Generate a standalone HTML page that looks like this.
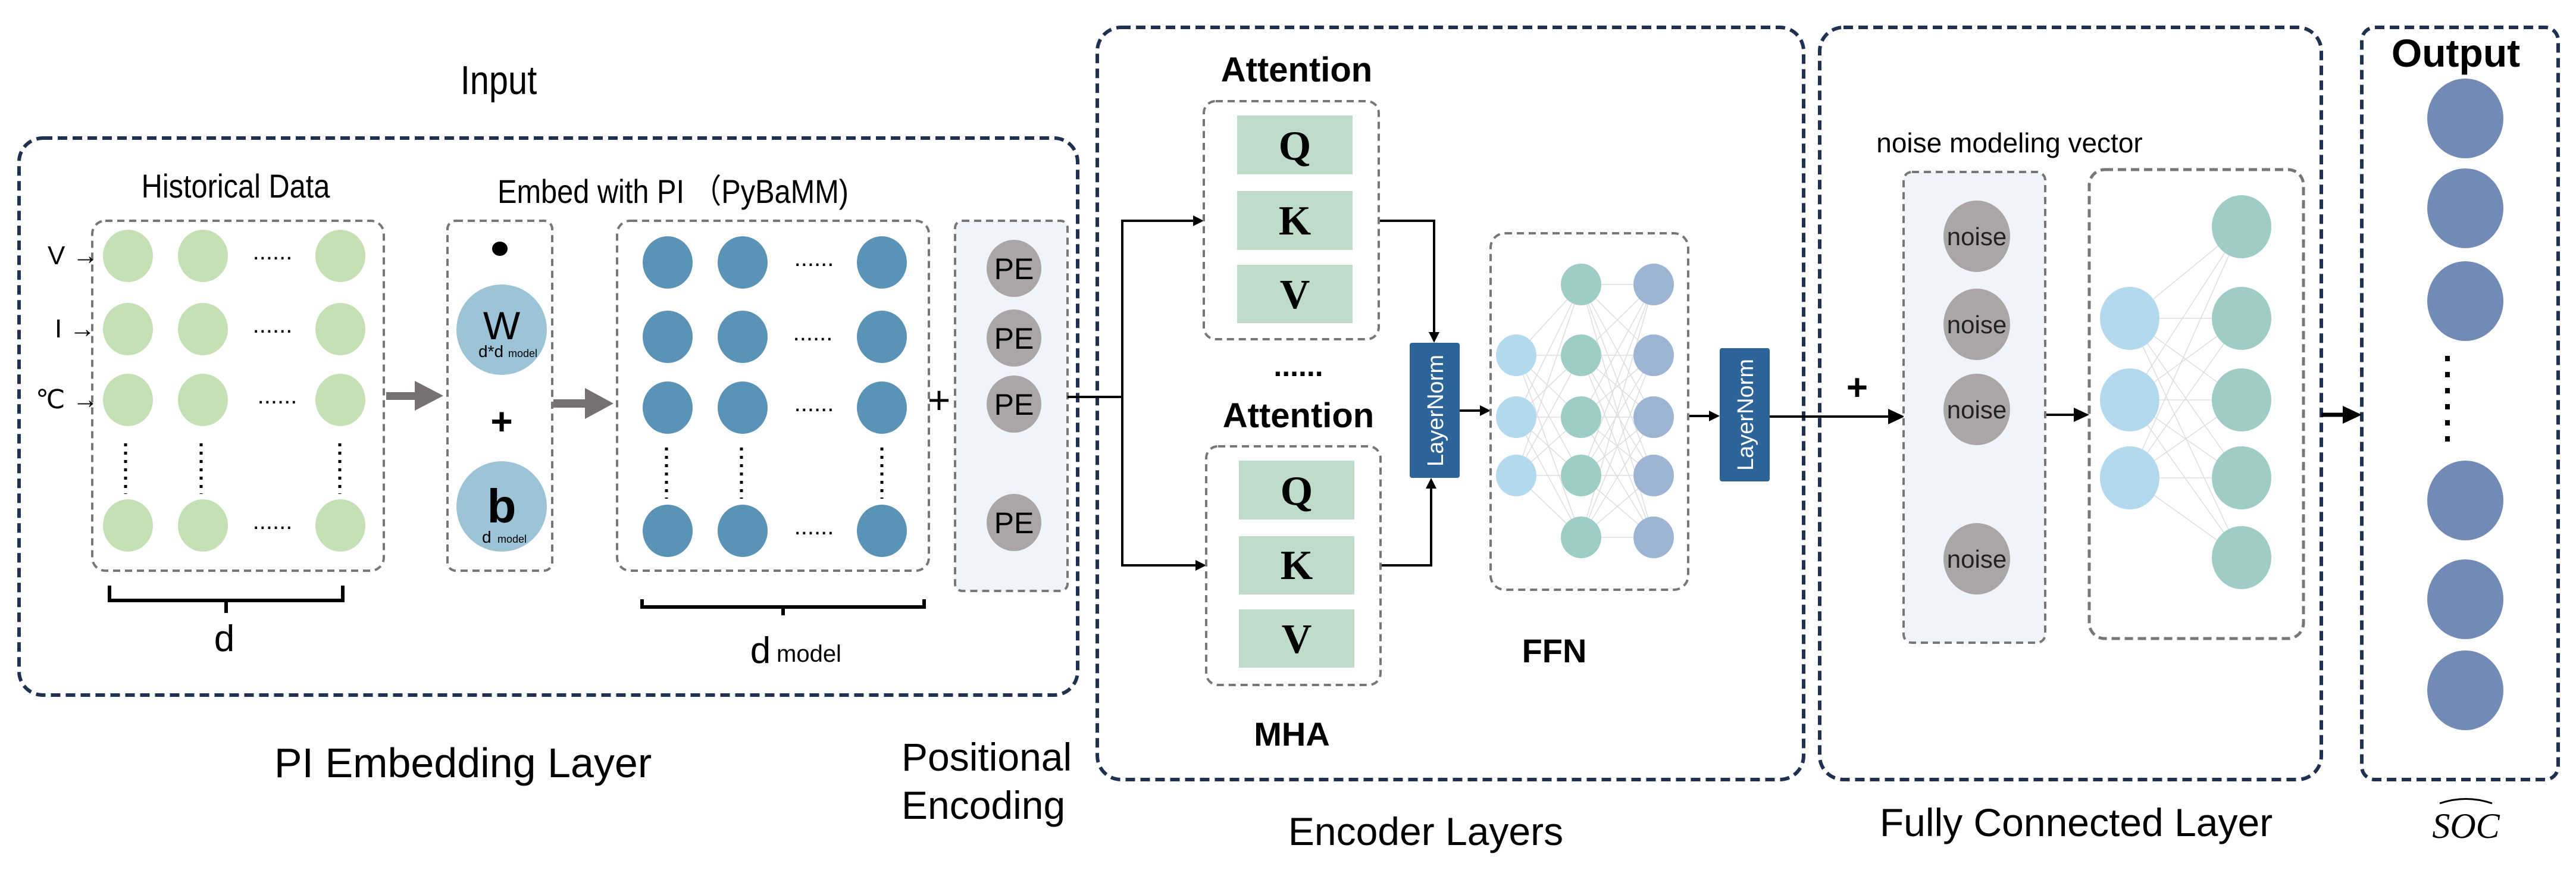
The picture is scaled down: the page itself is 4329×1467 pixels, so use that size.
<!DOCTYPE html>
<html><head><meta charset="utf-8"><style>
html,body{margin:0;padding:0;background:#fff}
svg{display:block}
text{font-family:"Liberation Sans","DejaVu Sans",sans-serif}
text.serif{font-family:"Liberation Serif","DejaVu Serif",serif}
</style></head><body>
<svg width="4329" height="1467" viewBox="0 0 4329 1467" xmlns="http://www.w3.org/2000/svg">
<g fill="none" stroke="#1f3050" stroke-width="6" stroke-dasharray="16 9">
<rect x="32" y="232" width="1779" height="936" rx="40"/>
<rect x="1844" y="46" width="1187" height="1264" rx="40"/>
<rect x="3058" y="46" width="843" height="1264" rx="40"/>
<rect x="3969" y="46" width="330" height="1264" rx="22"/>
</g>
<g fill="#000">
<text x="838" y="158" font-size="68" text-anchor="middle" transform="translate(838 0) scale(0.85 1) translate(-838 0)">Input</text>
<text x="396" y="332" font-size="56" text-anchor="middle" transform="translate(396 0) scale(0.87 1) translate(-396 0)">Historical Data</text>
<text x="1131" y="341" font-size="56" text-anchor="middle" transform="translate(1131 0) scale(0.87 1) translate(-1131 0)">Embed with PI （PyBaMM)</text>
<text x="778" y="1306" font-size="70" text-anchor="middle">PI Embedding Layer</text>
<text x="1515" y="1295" font-size="66">Positional</text>
<text x="1515" y="1376" font-size="66">Encoding</text>
<text x="2396" y="1420" font-size="66" text-anchor="middle">Encoder Layers</text>
<text x="3489" y="1405" font-size="66" text-anchor="middle">Fully Connected Layer</text>
<text x="3377" y="256" font-size="46" text-anchor="middle">noise modeling vector</text>
<text x="4127" y="112" font-size="66" font-weight="bold" text-anchor="middle">Output</text>
<text x="2179" y="137" font-size="58" font-weight="bold" text-anchor="middle">Attention</text>
<text x="2182" y="718" font-size="58" font-weight="bold" text-anchor="middle">Attention</text>
<text x="2171" y="1253" font-size="56" font-weight="bold" text-anchor="middle">MHA</text>
<text x="2612" y="1113" font-size="56" font-weight="bold" text-anchor="middle">FFN</text>
<text x="2182" y="632" font-size="50" font-weight="bold" text-anchor="middle">......</text>
<text class="serif" x="4144" y="1408" font-size="60" font-style="italic" text-anchor="middle">SOC</text>
<path d="M4100 1350 Q4144 1335 4188 1350" stroke="#000" stroke-width="3" fill="none"/>
<text x="377" y="1094" font-size="62" text-anchor="middle">d</text>
<text x="1278" y="1114" font-size="62" text-anchor="middle">d</text>
<text x="1305" y="1112" font-size="40">model</text>
</g>
<rect x="155" y="371" width="490" height="588" rx="22" fill="none" stroke="#777" stroke-width="4" stroke-dasharray="12 8"/>
<g fill="#c5e0b4">
<ellipse cx="215" cy="430" rx="42" ry="44"/><ellipse cx="341" cy="430" rx="42" ry="44"/><ellipse cx="572" cy="430" rx="42" ry="44"/>
<ellipse cx="215" cy="553" rx="42" ry="44"/><ellipse cx="341" cy="553" rx="42" ry="44"/><ellipse cx="572" cy="553" rx="42" ry="44"/>
<ellipse cx="215" cy="672" rx="42" ry="44"/><ellipse cx="341" cy="672" rx="42" ry="44"/><ellipse cx="572" cy="672" rx="42" ry="44"/>
<ellipse cx="215" cy="883" rx="42" ry="44"/><ellipse cx="341" cy="883" rx="42" ry="44"/><ellipse cx="572" cy="883" rx="42" ry="44"/>
</g>
<g font-size="40" fill="#000">
<text x="80" y="444" font-size="44">V →</text>
<text x="92" y="567" font-size="44">I →</text>
<text x="60" y="686" font-size="44">℃ →</text>
<text x="458" y="436" text-anchor="middle">......</text>
<text x="458" y="559" text-anchor="middle">......</text>
<text x="466" y="678" text-anchor="middle">......</text>
<text x="458" y="889" text-anchor="middle">......</text>
</g>
<g stroke="#000" stroke-width="5" stroke-dasharray="5 9">
<line x1="211" y1="745" x2="211" y2="830"/><line x1="338" y1="745" x2="338" y2="830"/><line x1="571" y1="745" x2="571" y2="830"/>
<line x1="1120" y1="752" x2="1120" y2="838"/><line x1="1246" y1="752" x2="1246" y2="838"/><line x1="1482" y1="752" x2="1482" y2="838"/>
<line x1="1703" y1="740" x2="1703" y2="826"/>
<line x1="3322" y1="765" x2="3322" y2="865"/>
</g>
<path d="M184 984 V1009 H576 V984 M380 1009 V1030" fill="none" stroke="#000" stroke-width="6"/>
<path d="M1079 1007 V1020 H1553 V1007 M1316 1020 V1034" fill="none" stroke="#000" stroke-width="6"/>
<path d="M649 659 H697 V640 L745 665 L697 690 V672 H649Z" fill="#767171"/>
<path d="M930 671 H983 V652 L1031 678 L983 704 V685 H930Z" fill="#767171"/>
<rect x="752" y="371" width="176" height="588" rx="14" fill="none" stroke="#777" stroke-width="4" stroke-dasharray="12 8"/>
<ellipse cx="840" cy="418" rx="13" ry="12" fill="#000"/>
<ellipse cx="843" cy="554" rx="76" ry="76" fill="#9dc3d6"/>
<ellipse cx="843" cy="851" rx="76" ry="76" fill="#9dc3d6"/>
<text x="843" y="570" font-size="66" text-anchor="middle">W</text>
<text x="804" y="600" font-size="28">d*d</text><text x="854" y="600" font-size="18">model</text>
<text x="843" y="878" font-size="80" font-weight="bold" text-anchor="middle">b</text>
<text x="810" y="912" font-size="28">d</text><text x="836" y="912" font-size="18">model</text>
<text x="843" y="730" font-size="64" font-weight="bold" text-anchor="middle">+</text>
<rect x="1037" y="371" width="524" height="588" rx="22" fill="none" stroke="#777" stroke-width="4" stroke-dasharray="12 8"/>
<g fill="#5b93b6">
<ellipse cx="1122" cy="441" rx="42" ry="44"/><ellipse cx="1248" cy="441" rx="42" ry="44"/><ellipse cx="1482" cy="441" rx="42" ry="44"/>
<ellipse cx="1122" cy="566" rx="42" ry="44"/><ellipse cx="1248" cy="566" rx="42" ry="44"/><ellipse cx="1482" cy="566" rx="42" ry="44"/>
<ellipse cx="1122" cy="685" rx="42" ry="44"/><ellipse cx="1248" cy="685" rx="42" ry="44"/><ellipse cx="1482" cy="685" rx="42" ry="44"/>
<ellipse cx="1122" cy="892" rx="42" ry="44"/><ellipse cx="1248" cy="892" rx="42" ry="44"/><ellipse cx="1482" cy="892" rx="42" ry="44"/>
</g>
<g font-size="40"><text x="1368" y="447" text-anchor="middle">......</text><text x="1366" y="572" text-anchor="middle">......</text><text x="1368" y="691" text-anchor="middle">......</text><text x="1368" y="898" text-anchor="middle">......</text></g>
<text x="1578" y="695" font-size="66" text-anchor="middle">+</text>
<rect x="1605" y="371" width="189" height="622" rx="12" fill="#f0f4fa" stroke="#777" stroke-width="4" stroke-dasharray="12 8"/>
<g fill="#aaa6a6"><ellipse cx="1704" cy="451" rx="46" ry="48"/><ellipse cx="1704" cy="568" rx="46" ry="48"/><ellipse cx="1704" cy="679" rx="46" ry="48"/><ellipse cx="1704" cy="878" rx="46" ry="48"/></g>
<g font-size="50" text-anchor="middle"><text x="1704" y="469">PE</text><text x="1704" y="586">PE</text><text x="1704" y="697">PE</text><text x="1704" y="896">PE</text></g>
<g fill="none" stroke="#000" stroke-width="4">
<path d="M1794 667 H1886 V371 H2010"/>
<path d="M1886 667 V950 H2014"/>
<path d="M2317 371 H2410 V562"/>
<path d="M2320 950 H2405 V818"/>
<path d="M2453 690 H2492"/>
<path d="M2837 699 H2876"/>
<path d="M2974 700 H3186"/>
<path d="M3437 697 H3496"/>
</g>
<g fill="#000">
<path d="M2023 371 l-18 -9 v18z"/>
<path d="M2027 950 l-18 -9 v18z"/>
<path d="M2410 576 l-9 -18 h18z"/>
<path d="M2405 803 l-9 18 h18z"/>
<path d="M2505 690 l-18 -9 v18z"/>
<path d="M2890 699 l-18 -9 v18z"/>
<path d="M3201 700 l-28 -13 v26z"/>
<path d="M3511 697 l-26 -12 v24z"/>
</g>
<path d="M3901 697 H3940" stroke="#000" stroke-width="7"/>
<path d="M3969 697 l-32 -15 v30z" fill="#000"/>
<rect x="2023" y="170" width="294" height="400" rx="20" fill="none" stroke="#777" stroke-width="4" stroke-dasharray="12 8"/>
<rect x="2027" y="750" width="293" height="401" rx="20" fill="none" stroke="#777" stroke-width="4" stroke-dasharray="12 8"/>
<g fill="#bfdccb">
<rect x="2079" y="194" width="194" height="99"/><rect x="2079" y="321" width="194" height="99"/><rect x="2079" y="445" width="194" height="98"/>
<rect x="2082" y="774" width="194" height="99"/><rect x="2082" y="901" width="194" height="98"/><rect x="2082" y="1024" width="194" height="98"/>
</g>
<g font-size="70" font-weight="bold" text-anchor="middle">
<text class="serif" x="2176" y="268">Q</text><text class="serif" x="2176" y="394">K</text><text class="serif" x="2176" y="518">V</text>
<text class="serif" x="2179" y="848">Q</text><text class="serif" x="2179" y="973">K</text><text class="serif" x="2179" y="1097">V</text>
</g>
<rect x="2369" y="576" width="84" height="227" rx="4" fill="#2c6399"/>
<rect x="2890" y="585" width="84" height="224" rx="4" fill="#2c6399"/>
<text transform="translate(2425 690) rotate(-90)" font-size="38" fill="#fff" text-anchor="middle">LayerNorm</text>
<text transform="translate(2946 697) rotate(-90)" font-size="38" fill="#fff" text-anchor="middle">LayerNorm</text>
<rect x="2505" y="392" width="332" height="599" rx="24" fill="none" stroke="#777" stroke-width="4" stroke-dasharray="12 8"/>
<g stroke="#ddd" stroke-width="1.5">
<path d="M2548 597 L2657 478 M2548 597 L2657 597 M2548 597 L2657 701 M2548 597 L2657 799 M2548 597 L2657 903 M2548 701 L2657 478 M2548 701 L2657 597 M2548 701 L2657 701 M2548 701 L2657 799 M2548 701 L2657 903 M2548 799 L2657 478 M2548 799 L2657 597 M2548 799 L2657 701 M2548 799 L2657 799 M2548 799 L2657 903"/>
<path d="M2657 478 L2779 478 M2657 478 L2779 597 M2657 478 L2779 701 M2657 478 L2779 799 M2657 478 L2779 903 M2657 597 L2779 478 M2657 597 L2779 597 M2657 597 L2779 701 M2657 597 L2779 799 M2657 597 L2779 903 M2657 701 L2779 478 M2657 701 L2779 597 M2657 701 L2779 701 M2657 701 L2779 799 M2657 701 L2779 903 M2657 799 L2779 478 M2657 799 L2779 597 M2657 799 L2779 701 M2657 799 L2779 799 M2657 799 L2779 903 M2657 903 L2779 478 M2657 903 L2779 597 M2657 903 L2779 701 M2657 903 L2779 799 M2657 903 L2779 903"/>
</g>
<g fill="#b3d9ef"><ellipse cx="2548" cy="597" rx="34" ry="35"/><ellipse cx="2548" cy="701" rx="34" ry="35"/><ellipse cx="2548" cy="799" rx="34" ry="35"/></g>
<g fill="#9ecdc7"><ellipse cx="2657" cy="478" rx="34" ry="35"/><ellipse cx="2657" cy="597" rx="34" ry="35"/><ellipse cx="2657" cy="701" rx="34" ry="35"/><ellipse cx="2657" cy="799" rx="34" ry="35"/><ellipse cx="2657" cy="903" rx="34" ry="35"/></g>
<g fill="#9db4d2"><ellipse cx="2779" cy="478" rx="34" ry="35"/><ellipse cx="2779" cy="597" rx="34" ry="35"/><ellipse cx="2779" cy="701" rx="34" ry="35"/><ellipse cx="2779" cy="799" rx="34" ry="35"/><ellipse cx="2779" cy="903" rx="34" ry="35"/></g>
<text x="3121" y="672" font-size="62" font-weight="bold" text-anchor="middle">+</text>
<rect x="3199" y="289" width="238" height="791" rx="14" fill="#f0f4fa" stroke="#777" stroke-width="4" stroke-dasharray="12 8"/>
<g fill="#aaa6a6"><ellipse cx="3322" cy="397" rx="56" ry="60"/><ellipse cx="3322" cy="545" rx="56" ry="60"/><ellipse cx="3322" cy="688" rx="56" ry="60"/><ellipse cx="3322" cy="939" rx="56" ry="60"/></g>
<g font-size="42" text-anchor="middle" fill="#222"><text x="3322" y="412">noise</text><text x="3322" y="560">noise</text><text x="3322" y="703">noise</text><text x="3322" y="954">noise</text></g>
<rect x="3511" y="285" width="360" height="788" rx="26" fill="none" stroke="#777" stroke-width="5" stroke-dasharray="14 8"/>
<g stroke="#ddd" stroke-width="1.5">
<path d="M3579 535 L3767 381 M3579 535 L3767 535 M3579 535 L3767 672 M3579 535 L3767 803 M3579 535 L3767 937 M3579 672 L3767 381 M3579 672 L3767 535 M3579 672 L3767 672 M3579 672 L3767 803 M3579 672 L3767 937 M3579 803 L3767 381 M3579 803 L3767 535 M3579 803 L3767 672 M3579 803 L3767 803 M3579 803 L3767 937"/>
</g>
<g fill="#b3d9ef"><ellipse cx="3579" cy="535" rx="50" ry="53"/><ellipse cx="3579" cy="672" rx="50" ry="53"/><ellipse cx="3579" cy="803" rx="50" ry="53"/></g>
<g fill="#a0ccc8"><ellipse cx="3767" cy="381" rx="50" ry="53"/><ellipse cx="3767" cy="535" rx="50" ry="53"/><ellipse cx="3767" cy="672" rx="50" ry="53"/><ellipse cx="3767" cy="803" rx="50" ry="53"/><ellipse cx="3767" cy="937" rx="50" ry="53"/></g>
<g fill="#728bb6"><ellipse cx="4143" cy="199" rx="64" ry="67"/><ellipse cx="4143" cy="350" rx="64" ry="67"/><ellipse cx="4143" cy="506" rx="64" ry="67"/><ellipse cx="4143" cy="841" rx="64" ry="67"/><ellipse cx="4143" cy="1007" rx="64" ry="67"/><ellipse cx="4143" cy="1160" rx="64" ry="67"/></g>
<line x1="4113" y1="598" x2="4113" y2="743" stroke="#000" stroke-width="8" stroke-dasharray="9 18"/>
</svg>
</body></html>
